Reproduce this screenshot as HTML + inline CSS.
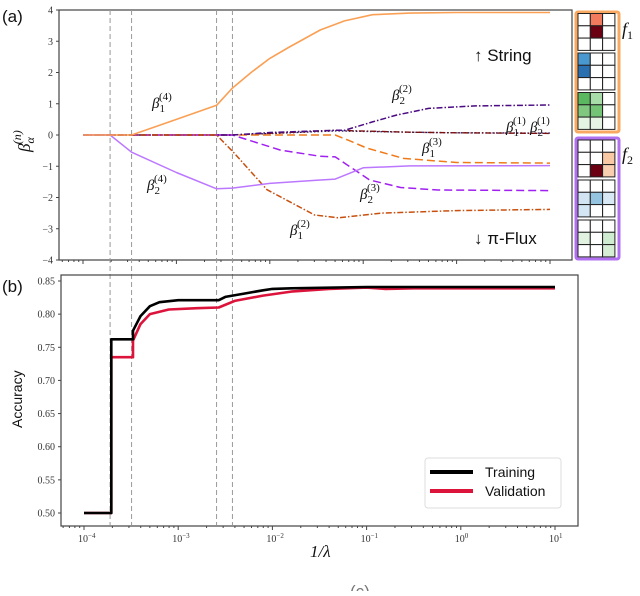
<!DOCTYPE html>
<html><head><meta charset="utf-8"><style>
body{margin:0;background:#fff}
svg text{font-family:"Liberation Serif",serif}
.sans{font-family:"Liberation Sans","DejaVu Sans",sans-serif}
</style></head><body>
<svg id="c" width="640" height="591" viewBox="0 0 640 591" xmlns="http://www.w3.org/2000/svg">
<rect width="640" height="591" fill="#fff"/>
</svg>
<script>
// ---- Data ----
const bLabelTicks=[4,3,2,1,0,-1,-2,-3,-4];
const accTicks=[0.85,0.80,0.75,0.70,0.65,0.60,0.55,0.50];
const xDecades=[-4,-3,-2,-1,0,1];
const vlines=[-3.71,-3.48,-2.57,-2.40];
const b14x=[-4,-3.48,-3,-2.57,-2.4,-2.2,-2,-1.8,-1.46,-1.2,-0.9,-0.5,0,1];
const b14y=[0,0,0.5,0.95,1.5,2.0,2.45,2.8,3.36,3.65,3.85,3.9,3.92,3.92];
const b24x=[-4,-3.71,-3.48,-3,-2.57,-2.4,-2,-1.5,-1.3,-1.0,-0.5,1];
const b24y=[0,0,-0.55,-1.2,-1.72,-1.7,-1.55,-1.45,-1.41,-1.05,-0.99,-0.98];
const b12x=[-4,-2.57,-2.39,-2.03,-1.52,-1.27,-0.8,0,1];
const b12y=[0,0,-0.55,-1.75,-2.56,-2.65,-2.5,-2.42,-2.38];
const b23x=[-4,-2.4,-1.89,-1.46,-1.3,-1.1,-0.93,-0.6,-0.2,1];
const b23y=[0,0,-0.48,-0.68,-0.7,-1.1,-1.44,-1.68,-1.76,-1.78];
const b13x=[-4,-1.3,-1.15,-0.96,-0.57,0,1];
const b13y=[0,0,-0.18,-0.42,-0.75,-0.88,-0.9];
const b22x=[-4,-2.4,-2.0,-1.3,-1.2,-0.9,-0.64,-0.3,0.2,1];
const b22y=[0,0,0.08,0.15,0.15,0.42,0.64,0.85,0.93,0.96];
const b11x=[-4,-2.4,-1.8,-1.3,-0.5,0,1];
const b11y=[0,0,0.08,0.15,0.09,0.07,0.05];
const b21x=[-4,-2.4,-1.8,-1.3,-0.5,0,1];
const b21y=[0,0,0.07,0.13,0.09,0.07,0.06];
const trX=[-4,-3.71,-3.71,-3.48,-3.48,-3.4,-3.3,-3.2,-3.0,-2.57,-2.5,-2.3,-2.1,-2.0,-1.8,-1,0,1];
const trY=[0.50,0.50,0.762,0.762,0.775,0.797,0.812,0.818,0.821,0.821,0.826,0.831,0.836,0.838,0.839,0.841,0.841,0.841];
const vaX=[-4,-3.71,-3.71,-3.48,-3.48,-3.4,-3.3,-3.1,-2.8,-2.57,-2.4,-2.1,-1.8,-1.4,-1.0,-0.8,-0.5,1];
const vaY=[0.50,0.50,0.735,0.735,0.76,0.785,0.80,0.807,0.809,0.81,0.82,0.828,0.834,0.838,0.840,0.838,0.839,0.839];

const NS="http://www.w3.org/2000/svg";
const svg=document.getElementById('c');
function el(tag,attrs,parent){const e=document.createElementNS(NS,tag);for(const k in attrs)e.setAttribute(k,attrs[k]);(parent||svg).appendChild(e);return e;}
const tx=d=>83+93.4*(d+4);
const ty=v=>135-31.25*v;
const bx=d=>84+94.2*(d+4);
const by=v=>513-(v-0.5)*662.9;

let r=el('rect',{x:59,y:10,width:513,height:250,fill:'none',stroke:'#444','stroke-width':1.2});


bLabelTicks.forEach(v=>{
 el('line',{x1:56,x2:59,y1:ty(v),y2:ty(v),stroke:'#444'});
 let t=el('text',{x:53,y:ty(v)+3.5,'font-size':10,'text-anchor':'end',fill:'#333'});
 t.textContent=(v<0?'\u2212'+(-v):v);
 
 
});
function xTicks(fx,y0,labels){
 for(let d=-4;d<=1;d++){
  el('line',{x1:fx(d),x2:fx(d),y1:y0,y2:y0+4,stroke:'#444'});
  if(d<1)for(let m=2;m<10;m++){const xx=fx(d+Math.log10(m));el('line',{x1:xx,x2:xx,y1:y0,y2:y0+2,stroke:'#444'});}
 }
 for(let m=2;m<10;m++){const xx=fx(-5+Math.log10(m));if(xx>62)el('line',{x1:xx,x2:xx,y1:y0,y2:y0+2,stroke:'#444'});}
 for(let m=2;m<10;m++){const xx=fx(1+Math.log10(m));if(xx<575)el('line',{x1:xx,x2:xx,y1:y0,y2:y0+2,stroke:'#444'});}
 if(labels)xDecades.forEach(d=>{
  let t=el('text',{x:fx(d)-6,y:y0+16,'font-size':10,fill:'#333'});
  t.textContent='10';
  let s=el('tspan',{dy:-4,'font-size':7});s.textContent=(d<0?'\u2212'+(-d):d);t.appendChild(s);
  
  
 });
}
xTicks(tx,260,false);
vlines.forEach(d=>{let l=el('line',{x1:tx(d),x2:tx(d),y1:10,y2:525,stroke:'#999','stroke-dasharray':'5,3','stroke-width':1});
 
 });

function series(xs,ys,fx,fy,color,dash,w,name){
 let d=xs.map((x,i)=>(i?'L':'M')+fx(x).toFixed(1)+','+fy(ys[i]).toFixed(1)).join(' ');
 let p=el('path',{d:d,fill:'none',stroke:color,'stroke-width':w,'stroke-dasharray':dash,'stroke-linejoin':'round'});
 
 
}
series(b21x,b21y,tx,ty,'#1c1c6e','1.5,2',1.4,'beta-2-1-line');
series(b11x,b11y,tx,ty,'#7a1010','6,2,1.5,2',1.4,'beta-1-1-line');
series(b13x,b13y,tx,ty,'#f07a1a','8,4',1.5,'beta-1-3-line');
series(b23x,b23y,tx,ty,'#a020f0','8,4',1.5,'beta-2-3-line');
series(b22x,b22y,tx,ty,'#4b0a82','6,2,1.5,2',1.5,'beta-2-2-line');
series(b12x,b12y,tx,ty,'#c8500f','6,2,1.5,2',1.5,'beta-1-2-line');
series(b24x,b24y,tx,ty,'#bb77ff','',1.5,'beta-2-4-line');
series(b14x,b14y,tx,ty,'#faa055','',1.6,'beta-1-4-line');

function blabel(x,y,a,n,name){
 let t=el('text',{x:x,y:y,'font-size':15,'font-style':'italic',fill:'#111'});
 t.textContent='\u03B2';
 let s1=el('tspan',{dy:4,'font-size':11,'font-style':'normal'});s1.textContent=a;t.appendChild(s1);
 let s2=el('tspan',{dx:-6,dy:-12,'font-size':11,'font-style':'normal'});s2.textContent='('+n+')';t.appendChild(s2);
 
 
}
blabel(152,108,'1','4','label-beta-1-4');
blabel(147,190,'2','4','label-beta-2-4');
blabel(290,235,'1','2','label-beta-1-2');
blabel(392,100,'2','2','label-beta-2-2');
blabel(506,132,'1','1','label-beta-1-1');
blabel(530,132,'2','1','label-beta-2-1');
blabel(422,153,'1','3','label-beta-1-3');
blabel(360,199,'2','3','label-beta-2-3');
let t;
t=el('text',{x:474,y:61,'font-size':17,fill:'#111',class:'sans'});t.textContent='\u2191 String';

t=el('text',{x:474,y:244,'font-size':17,fill:'#111',class:'sans'});t.textContent='\u2193 \u03C0-Flux';

t=el('text',{x:2,y:22,'font-size':17,fill:'#111',class:'sans'});t.textContent='(a)';

t=el('text',{x:2,y:292,'font-size':17,fill:'#111',class:'sans'});t.textContent='(b)';

t=el('text',{x:0,y:0,'font-size':17,'font-style':'italic',fill:'#111',transform:'translate(30,152) rotate(-90)'});
t.textContent='\u03B2';let s=el('tspan',{dy:4,'font-size':12});s.textContent='\u03B1';t.appendChild(s);
s=el('tspan',{dx:-7,dy:-13,'font-size':12});s.textContent='(n)';t.appendChild(s);


function box(x,y,w,h,c,name){let b=el('rect',{x:x,y:y,width:w,height:h,fill:'#fff',stroke:c,'stroke-width':3,rx:2});
 }
box(576,12,43,120,'#f8a860','filter-f1-box');
box(576,138,43,121,'#b070f0','filter-f2-box');
function grid(x0,y0,cells,name){
 const g=el('g',{});
 
 for(let r=0;r<3;r++)for(let c=0;c<3;c++){
  const col=(cells[r+','+c])||'#fff';
  el('rect',{x:x0+c*12.3,y:y0+r*12.3,width:12.3,height:12.3,fill:col,stroke:'#222','stroke-width':1},g);
 }
}
grid(578,13.5,{'0,1':'#f27b5e','1,1':'#6b0012'},'f1-grid-1');
grid(578,53,{'0,0':'#4a98d0','1,0':'#2a70b0'},'f1-grid-2');
grid(578,92.5,{'0,0':'#5cb860','0,1':'#a8dca8','1,0':'#80c880','1,1':'#74c476','2,0':'#e4f4e2','2,1':'#e6f4e4'},'f1-grid-3');
grid(578,140,{'1,2':'#f9c9a6','2,1':'#6b0012','2,2':'#f9cfb0'},'f2-grid-1');
grid(578,180,{'1,0':'#d2e4f2','1,1':'#94c4e0','1,2':'#d8e8f4','2,0':'#d4e6f4'},'f2-grid-2');
grid(578,220,{'1,0':'#e2f2e0','1,2':'#d0ecd0','2,2':'#d6efd4'},'f2-grid-3');
t=el('text',{x:622,y:35,'font-size':18,'font-style':'italic',fill:'#111'});t.textContent='f';
s=el('tspan',{dy:4,'font-size':12,'font-style':'normal'});s.textContent='1';t.appendChild(s);

t=el('text',{x:622,y:160,'font-size':18,'font-style':'italic',fill:'#111'});t.textContent='f';
s=el('tspan',{dy:4,'font-size':12,'font-style':'normal'});s.textContent='2';t.appendChild(s);


r=el('rect',{x:61,y:275,width:517,height:251,fill:'none',stroke:'#444','stroke-width':1.2});

accTicks.forEach(v=>{
 el('line',{x1:58,x2:61,y1:by(v),y2:by(v),stroke:'#444'});
 let q=el('text',{x:55,y:by(v)+3.5,'font-size':10,'text-anchor':'end',fill:'#333'});
 q.textContent=v.toFixed(2);
 
});
xTicks(bx,526,true);
series(vaX,vaY,bx,by,'#dc143c','',2.6,'validation-line');
series(trX,trY,bx,by,'#000','',2.6,'training-line');
t=el('text',{x:0,y:0,'font-size':14,fill:'#111',class:'sans',transform:'translate(22,428) rotate(-90)'});t.textContent='Accuracy';

t=el('text',{x:310,y:557,'font-size':17,'font-style':'italic',fill:'#111'});t.textContent='1/\u03BB';

const lg=el('g',{});
el('rect',{x:425,y:458,width:136,height:50,fill:'#fff',stroke:'#ddd',rx:3},lg);
el('line',{x1:430,x2:473,y1:472,y2:472,stroke:'#000','stroke-width':4},lg);
el('line',{x1:430,x2:473,y1:491,y2:491,stroke:'#dc143c','stroke-width':4},lg);
t=el('text',{x:485,y:477,'font-size':14,fill:'#111',class:'sans'},lg);t.textContent='Training';

t=el('text',{x:485,y:496,'font-size':14,fill:'#111',class:'sans'},lg);t.textContent='Validation';

t=el('text',{x:350,y:597,'font-size':17,fill:'#777',class:'sans'});t.textContent='(c)';

</script>
</body></html>
